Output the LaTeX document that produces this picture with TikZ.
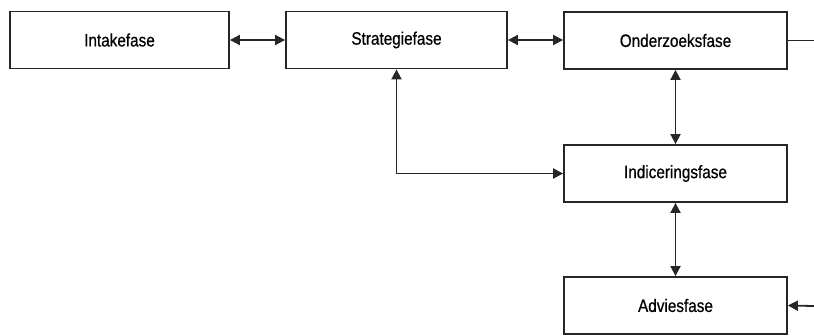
\documentclass[tikz,border=0pt]{standalone}
\usepackage{fontspec}
\setmainfont{Liberation Sans}[FakeStretch=0.85,FakeBold=0.6]
\usetikzlibrary{arrows.meta}
\begin{document}
\begin{tikzpicture}[x=1pt,y=-1pt,
  phase/.style={draw=black!85, line width=1.8pt, minimum height=57pt, minimum width=223pt, inner sep=0pt, font=\fontsize{18}{20}\selectfont},
  conn/.style={draw=black!85, line width=1.8pt, {Triangle[length=10pt,width=10pt]}-{Triangle[length=10pt,width=10pt]}},
  single/.style={draw=black!85, line width=1.8pt, -{Triangle[length=10pt,width=10pt]}},
  plain/.style={draw=black!85, line width=1.8pt}]
\useasboundingbox (0,0) rectangle (814,335);
\node[phase, minimum width=219pt] (intake) at (119.5,40) {Intakefase};
\node[phase, minimum width=221pt] (strat) at (396.5,40) {Strategiefase};
\node[phase] (onder) at (675.5,40.5) {Onderzoeksfase};
\node[phase] (indic) at (675.5,173.5) {Indiceringsfase};
\node[phase] (advies) at (675.5,305.5) {Adviesfase};
\coordinate (rtop) at (814,40.5);
\coordinate (rbot) at (814,306);
\draw[conn] (intake.east) -- (strat.west);
\draw[conn] (strat.east) -- (strat.east -| onder.west);
\draw[conn] (onder.south) -- (indic.north);
\draw[conn] (indic.south) -- (advies.north);
\draw[conn] (strat.south) |- (indic.west);
\draw[plain] (onder.east) -- (rtop);
\draw[single] (rbot) -- (advies.east);
\end{tikzpicture}
\end{document}
